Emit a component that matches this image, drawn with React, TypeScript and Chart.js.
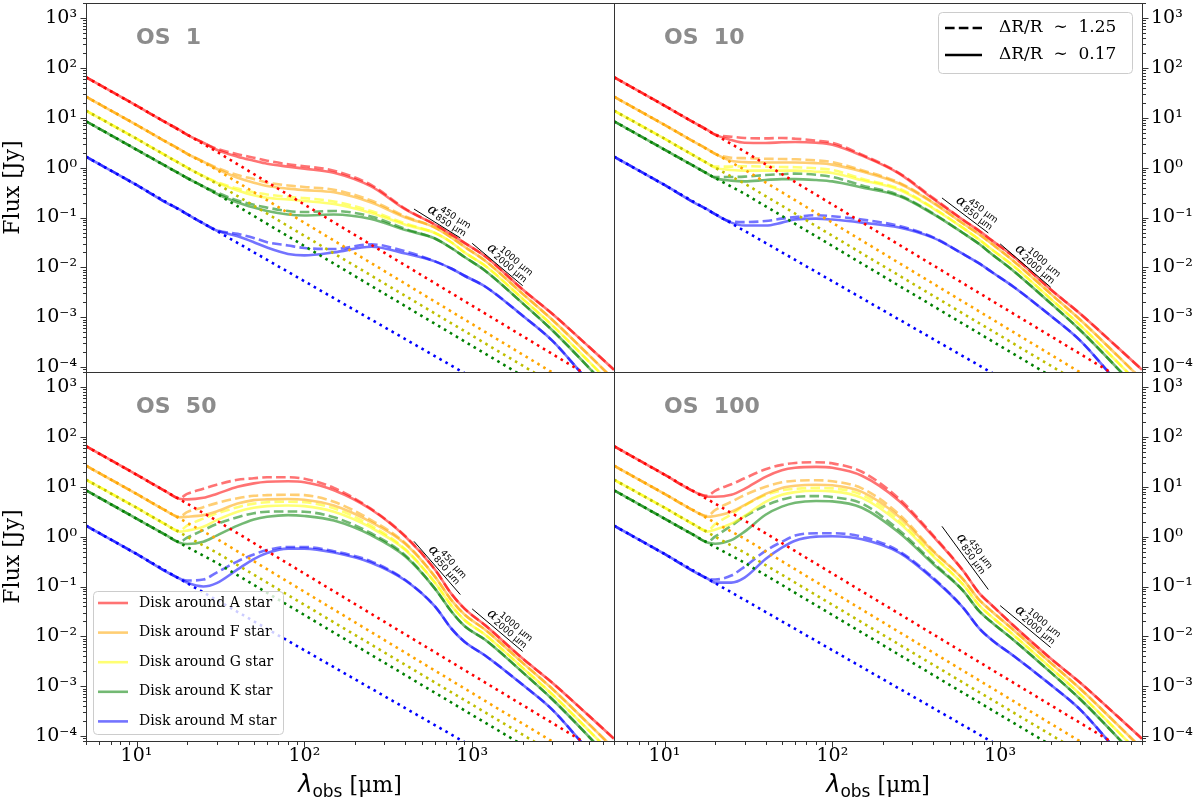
import { useEffect, useRef } from "react";
import { Chart, registerables } from "chart.js";

Chart.register(...registerables);

// wavelength grid of the disk curves (µm)
const LAMBDA = [5, 10, 15, 18, 20, 25, 30, 40, 50, 60, 80, 100, 150, 250, 400, 600, 750, 900, 1200, 2000, 3000, 5000, 7000];
// wavelength grid of the bare stellar photospheres (µm)
const STAR_LAMBDA = [5, 10, 20, 30, 7000];
const ALPHA1_LAMBDA = [450, 850];
const ALPHA2_LAMBDA = [1000, 2000];

// photospheres (Jy)
const STAR_A = [65, 17.5, 4.6, 2.1, 3.3e-5];
const STAR_F = [26.5, 7.2, 1.9, 0.91, 1.4e-5];
const STAR_G = [13.9, 3.8, 1.0, 0.48, 8.7e-6];
const STAR_K = [8.5, 2.3, 0.62, 0.3, 5.4e-6];
const STAR_M = [1.66, 0.45, 0.117, 0.054, 1.45e-6];

// shared short wavelength part (5, 10, 15 µm)
const HEAD_A = [65, 17.5, 8.0];
const HEAD_F = [26.5, 7.2, 3.3];
const HEAD_G = [13.9, 3.8, 1.74];
const HEAD_K = [8.5, 2.3, 1.07];
const HEAD_M = [1.66, 0.45, 0.2];

// shared mm tail (1200, 2000, 3000, 5000, 7000 µm)
const TAIL_A = [0.0165, 0.0036, 0.00118, 2.5e-4, 8.9e-5];
const TAIL_F = [0.0135, 0.00295, 8.9e-4, 1.7e-4, 5.6e-5];
const TAIL_G = [0.0107, 0.00234, 6.9e-4, 1.26e-4, 4.0e-5];
const TAIL_K = [0.0085, 0.0019, 5.5e-4, 9.5e-5, 2.8e-5];
const TAIL_M = [0.0041, 0.00107, 3.4e-4, 5.0e-5, 1.6e-5];

// OS 1
const OS1_A_SOLID = [...HEAD_A, 5.7, 4.6, 3.16, 2.29, 1.66, 1.38, 1.2, 1.05, 0.955, 0.79, 0.42, 0.145, 0.072, 0.046, 0.031, ...TAIL_A];
const OS1_A_DASHED = [...HEAD_A, 5.7, 4.6, 3.16, 2.4, 1.86, 1.58, 1.38, 1.17, 1.07, 0.87, 0.45, 0.15, 0.072, 0.046, 0.031, ...TAIL_A];
const OS1_F_SOLID = [...HEAD_F, 2.35, 1.9, 1.32, 0.95, 0.63, 0.5, 0.43, 0.38, 0.355, 0.32, 0.2, 0.1, 0.063, 0.04, 0.026, ...TAIL_F];
const OS1_F_DASHED = [...HEAD_F, 2.35, 1.9, 1.32, 1.0, 0.71, 0.59, 0.5, 0.44, 0.41, 0.36, 0.22, 0.105, 0.063, 0.04, 0.026, ...TAIL_F];
const OS1_G_SOLID = [...HEAD_G, 1.23, 1.0, 0.68, 0.5, 0.35, 0.28, 0.25, 0.23, 0.215, 0.186, 0.123, 0.072, 0.049, 0.032, 0.02, ...TAIL_G];
const OS1_G_DASHED = [...HEAD_G, 1.23, 1.0, 0.68, 0.52, 0.38, 0.32, 0.29, 0.26, 0.245, 0.21, 0.135, 0.076, 0.049, 0.032, 0.02, ...TAIL_G];
const OS1_K_SOLID = [...HEAD_K, 0.76, 0.62, 0.42, 0.3, 0.2, 0.158, 0.135, 0.115, 0.11, 0.115, 0.093, 0.056, 0.038, 0.0245, 0.0162, ...TAIL_K];
const OS1_K_DASHED = [...HEAD_K, 0.76, 0.62, 0.42, 0.32, 0.22, 0.18, 0.158, 0.135, 0.129, 0.135, 0.105, 0.059, 0.038, 0.0245, 0.0162, ...TAIL_K];
const OS1_M_SOLID = [...HEAD_M, 0.145, 0.117, 0.076, 0.055, 0.042, 0.032, 0.025, 0.0186, 0.0174, 0.02, 0.026, 0.019, 0.0132, 0.0095, 0.0068, ...TAIL_M];
const OS1_M_DASHED = [...HEAD_M, 0.145, 0.117, 0.076, 0.056, 0.047, 0.039, 0.032, 0.0275, 0.0245, 0.0234, 0.029, 0.021, 0.0132, 0.0095, 0.0068, ...TAIL_M];

// OS 10
const OS10_A_SOLID = [...HEAD_A, 5.7, 4.6, 3.58, 3.16, 3.13, 3.22, 3.27, 3.16, 2.88, 1.74, 0.76, 0.235, 0.09, 0.054, 0.034, ...TAIL_A];
const OS10_A_DASHED = [...HEAD_A, 5.7, 4.6, 4.17, 3.93, 3.87, 3.93, 3.81, 3.48, 3.16, 1.82, 0.78, 0.245, 0.09, 0.054, 0.034, ...TAIL_A];
const OS10_F_SOLID = [...HEAD_F, 2.35, 1.9, 1.37, 1.29, 1.27, 1.27, 1.27, 1.23, 1.15, 0.84, 0.48, 0.195, 0.076, 0.046, 0.029, ...TAIL_F];
const OS10_F_DASHED = [...HEAD_F, 2.35, 1.9, 1.58, 1.55, 1.51, 1.49, 1.47, 1.4, 1.29, 0.89, 0.5, 0.2, 0.076, 0.046, 0.029, ...TAIL_F];
const OS10_G_SOLID = [...HEAD_G, 1.23, 1.0, 0.9, 0.87, 0.87, 0.87, 0.87, 0.83, 0.78, 0.56, 0.36, 0.151, 0.062, 0.036, 0.0224, ...TAIL_G];
const OS10_G_DASHED = [...HEAD_G, 1.23, 1.05, 1.05, 1.07, 1.05, 1.03, 1.02, 0.97, 0.9, 0.6, 0.38, 0.155, 0.062, 0.036, 0.0224, ...TAIL_G];
const OS10_K_SOLID = [...HEAD_K, 0.76, 0.62, 0.55, 0.53, 0.565, 0.59, 0.59, 0.565, 0.53, 0.4, 0.27, 0.117, 0.049, 0.0295, 0.018, ...TAIL_K];
const OS10_K_DASHED = [...HEAD_K, 0.76, 0.65, 0.65, 0.66, 0.71, 0.74, 0.76, 0.72, 0.65, 0.44, 0.28, 0.12, 0.049, 0.0295, 0.018, ...TAIL_K];
const OS10_M_SOLID = [...HEAD_M, 0.145, 0.117, 0.079, 0.069, 0.069, 0.079, 0.091, 0.095, 0.091, 0.079, 0.063, 0.039, 0.0186, 0.012, 0.0079, ...TAIL_M];
const OS10_M_DASHED = [...HEAD_M, 0.145, 0.117, 0.083, 0.081, 0.085, 0.095, 0.102, 0.111, 0.106, 0.091, 0.068, 0.04, 0.0186, 0.012, 0.0079, ...TAIL_M];

// OS 50
const OS50_A_SOLID = [...HEAD_A, 5.75, 5.6, 6.0, 7.2, 10.0, 11.7, 12.6, 12.9, 12.3, 8.5, 3.5, 1.0, 0.22, 0.072, 0.036, ...TAIL_A];
const OS50_A_DASHED = [...HEAD_A, 5.9, 7.2, 9.1, 11.0, 13.8, 14.8, 15.5, 15.5, 14.5, 9.5, 3.6, 1.02, 0.22, 0.072, 0.036, ...TAIL_A];
const OS50_F_SOLID = [...HEAD_F, 2.45, 2.5, 2.7, 3.2, 4.6, 5.4, 5.6, 5.7, 5.5, 4.2, 1.95, 0.71, 0.158, 0.054, 0.0275, ...TAIL_F];
const OS50_F_DASHED = [...HEAD_F, 2.5, 3.1, 3.9, 4.7, 5.9, 6.6, 6.8, 6.9, 6.8, 5.0, 2.15, 0.74, 0.158, 0.054, 0.0275, ...TAIL_F];
const OS50_G_SOLID = [...HEAD_G, 1.26, 1.32, 1.58, 2.14, 3.16, 3.8, 4.1, 4.2, 4.1, 3.16, 1.51, 0.54, 0.12, 0.042, 0.0214, ...TAIL_G];
const OS50_G_DASHED = [...HEAD_G, 1.32, 1.66, 2.3, 2.9, 3.9, 4.6, 4.9, 5.0, 4.9, 3.7, 1.66, 0.56, 0.12, 0.042, 0.0214, ...TAIL_G];
const OS50_K_SOLID = [...HEAD_K, 0.76, 0.71, 0.79, 1.05, 1.66, 2.2, 2.5, 2.7, 2.6, 2.1, 1.07, 0.4, 0.091, 0.032, 0.0162, ...TAIL_K];
const OS50_K_DASHED = [...HEAD_K, 0.79, 0.95, 1.35, 1.78, 2.45, 2.95, 3.16, 3.2, 3.16, 2.45, 1.17, 0.42, 0.091, 0.032, 0.0162, ...TAIL_K];
const OS50_M_SOLID = [...HEAD_M, 0.145, 0.12, 0.1, 0.117, 0.22, 0.355, 0.47, 0.575, 0.575, 0.48, 0.3, 0.132, 0.04, 0.0145, 0.0078, ...TAIL_M];
const OS50_M_DASHED = [...HEAD_M, 0.145, 0.132, 0.138, 0.19, 0.32, 0.44, 0.54, 0.62, 0.62, 0.51, 0.32, 0.135, 0.04, 0.0145, 0.0078, ...TAIL_M];

// OS 100
const OS100_A_SOLID = [...HEAD_A, 6.3, 6.3, 6.9, 9.1, 15.8, 21.4, 24, 25, 24, 16.6, 5.2, 1.0, 0.21, 0.074, 0.041, ...TAIL_A];
const OS100_A_DASHED = [...HEAD_A, 6.6, 8.3, 11.2, 14.8, 22.4, 27.5, 30, 31, 29.5, 20, 5.75, 1.05, 0.21, 0.074, 0.041, ...TAIL_A];
const OS100_F_SOLID = [...HEAD_F, 2.5, 2.6, 3.16, 4.3, 7.2, 9.5, 10.5, 11.0, 10.7, 7.9, 2.5, 0.5, 0.141, 0.054, 0.031, ...TAIL_F];
const OS100_F_DASHED = [...HEAD_F, 2.6, 3.4, 5.0, 6.8, 10.0, 12.3, 13.2, 13.5, 12.9, 9.3, 2.8, 0.52, 0.141, 0.054, 0.031, ...TAIL_F];
const OS100_G_SOLID = [...HEAD_G, 1.26, 1.38, 1.82, 2.6, 5.0, 6.9, 7.8, 8.3, 8.1, 6.0, 1.9, 0.4, 0.11, 0.042, 0.024, ...TAIL_G];
const OS100_G_DASHED = [...HEAD_G, 1.32, 1.78, 2.8, 4.2, 6.8, 8.5, 9.1, 9.5, 9.3, 6.9, 2.14, 0.42, 0.11, 0.042, 0.024, ...TAIL_G];
const OS100_K_SOLID = [...HEAD_K, 0.76, 0.72, 0.85, 1.26, 2.75, 4.0, 4.8, 5.2, 5.1, 3.8, 1.2, 0.28, 0.083, 0.032, 0.0186, ...TAIL_K];
const OS100_K_DASHED = [...HEAD_K, 0.79, 1.0, 1.66, 2.5, 4.2, 5.5, 6.3, 6.5, 6.2, 4.6, 1.35, 0.3, 0.083, 0.032, 0.0186, ...TAIL_K];
const OS100_M_SOLID = [...HEAD_M, 0.145, 0.12, 0.12, 0.151, 0.355, 0.6, 0.83, 1.0, 1.02, 0.89, 0.48, 0.141, 0.038, 0.0145, 0.0083, ...TAIL_M];
const OS100_M_DASHED = [...HEAD_M, 0.145, 0.138, 0.166, 0.25, 0.52, 0.79, 1.05, 1.17, 1.17, 1.0, 0.51, 0.148, 0.038, 0.0145, 0.0083, ...TAIL_M];

// spectral index guide segments
const OS1_ALPHA1 = [0.148, 0.039];
const OS1_ALPHA2 = [0.0304, 0.0043];
const OS10_ALPHA1 = [0.247, 0.049];
const OS10_ALPHA2 = [0.0296, 0.004];
const OS50_ALPHA1 = [0.805, 0.069];
const OS50_ALPHA2 = [0.0356, 0.005];
const OS100_ALPHA1 = [1.61, 0.087];
const OS100_ALPHA2 = [0.0414, 0.006];

const STARS = ["A", "F", "G", "K", "M"];
const STAR_DATA: Record<string, number[]> = { A: STAR_A, F: STAR_F, G: STAR_G, K: STAR_K, M: STAR_M };
const DISK_COLORS: Record<string, string> = {
  A: "rgba(255,0,0,0.55)",
  F: "rgba(255,165,0,0.55)",
  G: "rgba(255,255,0,0.55)",
  K: "rgba(0,128,0,0.55)",
  M: "rgba(0,0,255,0.55)",
};
const STAR_COLORS: Record<string, string> = { A: "#ff0000", F: "#ffa500", G: "#bfbf00", K: "#008000", M: "#0000ff" };
const LEGEND_LABELS = ["Disk around A star", "Disk around F star", "Disk around G star", "Disk around K star", "Disk around M star"];
const STYLE_LABELS = ["ΔR/R  ∼  1.25", "ΔR/R  ∼  0.17"];

const PANELS = [
  {
    label: "OS  1", x: "xL", y: "yTL", bottom: false, left: true,
    solid: { A: OS1_A_SOLID, F: OS1_F_SOLID, G: OS1_G_SOLID, K: OS1_K_SOLID, M: OS1_M_SOLID },
    dashed: { A: OS1_A_DASHED, F: OS1_F_DASHED, G: OS1_G_DASHED, K: OS1_K_DASHED, M: OS1_M_DASHED },
    alpha1: OS1_ALPHA1, alpha2: OS1_ALPHA2,
  },
  {
    label: "OS  10", x: "xR", y: "yTR", bottom: false, left: false,
    solid: { A: OS10_A_SOLID, F: OS10_F_SOLID, G: OS10_G_SOLID, K: OS10_K_SOLID, M: OS10_M_SOLID },
    dashed: { A: OS10_A_DASHED, F: OS10_F_DASHED, G: OS10_G_DASHED, K: OS10_K_DASHED, M: OS10_M_DASHED },
    alpha1: OS10_ALPHA1, alpha2: OS10_ALPHA2,
  },
  {
    label: "OS  50", x: "xL", y: "yBL", bottom: true, left: true,
    solid: { A: OS50_A_SOLID, F: OS50_F_SOLID, G: OS50_G_SOLID, K: OS50_K_SOLID, M: OS50_M_SOLID },
    dashed: { A: OS50_A_DASHED, F: OS50_F_DASHED, G: OS50_G_DASHED, K: OS50_K_DASHED, M: OS50_M_DASHED },
    alpha1: OS50_ALPHA1, alpha2: OS50_ALPHA2,
  },
  {
    label: "OS  100", x: "xR", y: "yBR", bottom: true, left: false,
    solid: { A: OS100_A_SOLID, F: OS100_F_SOLID, G: OS100_G_SOLID, K: OS100_K_SOLID, M: OS100_M_SOLID },
    dashed: { A: OS100_A_DASHED, F: OS100_F_DASHED, G: OS100_G_DASHED, K: OS100_K_DASHED, M: OS100_M_DASHED },
    alpha1: OS100_ALPHA1, alpha2: OS100_ALPHA2,
  },
];

const X_MIN = 5;
const X_MAX = 7000;
const Y_MIN = 8e-5;
const Y_MAX = 2000;
const X_MAJOR = [10, 100, 1000];
const Y_MAJOR = [1e-4, 1e-3, 1e-2, 1e-1, 1, 10, 100, 1000];
const SERIF = '"DejaVu Serif"';
const SANS = '"DejaVu Sans"';
const FRAME = "#333333";

const SUP: Record<string, string> = { "0": "⁰", "1": "¹", "2": "²", "3": "³", "4": "⁴", "5": "⁵", "6": "⁶", "7": "⁷", "8": "⁸", "9": "⁹", "-": "⁻" };
const powLabel = (v: number) => "10" + String(Math.round(Math.log10(v))).split("").map((c) => SUP[c]).join("");
const pts = (xs: number[], ys: number[]) => xs.map((x, i) => ({ x, y: ys[i] }));

function logTicks(min: number, max: number) {
  const out: { v: number; major: boolean }[] = [];
  for (let e = Math.floor(Math.log10(min)); e <= Math.ceil(Math.log10(max)); e++) {
    for (let m = 1; m < 10; m++) {
      const v = m * Math.pow(10, e);
      if (v >= min * 0.999 && v <= max * 1.001) out.push({ v, major: m === 1 });
    }
  }
  return out;
}

function buildDatasets() {
  const sets: any[] = [];
  for (const p of PANELS) {
    for (const s of STARS) {
      sets.push({
        data: pts(STAR_LAMBDA, STAR_DATA[s]), xAxisID: p.x, yAxisID: p.y,
        borderColor: STAR_COLORS[s], borderWidth: 2.6, borderDash: [2.6, 4.3], borderCapStyle: "butt",
        pointRadius: 0, tension: 0, clip: 0, order: 1,
      });
    }
    for (const s of STARS) {
      sets.push({
        data: pts(LAMBDA, (p.dashed as any)[s]), xAxisID: p.x, yAxisID: p.y,
        borderColor: DISK_COLORS[s], borderWidth: 2.6, borderDash: [9.6, 4.2],
        pointRadius: 0, cubicInterpolationMode: "monotone", clip: 0, order: 2,
      });
      sets.push({
        data: pts(LAMBDA, (p.solid as any)[s]), xAxisID: p.x, yAxisID: p.y,
        borderColor: DISK_COLORS[s], borderWidth: 2.6,
        pointRadius: 0, cubicInterpolationMode: "monotone", clip: 0, order: 2,
      });
    }
    sets.push({
      data: pts(ALPHA1_LAMBDA, p.alpha1), xAxisID: p.x, yAxisID: p.y,
      borderColor: "#000", borderWidth: 1, pointRadius: 0, clip: 0, order: 0,
      annot: ["450 μm", "850 μm"],
    });
    sets.push({
      data: pts(ALPHA2_LAMBDA, p.alpha2), xAxisID: p.x, yAxisID: p.y,
      borderColor: "#000", borderWidth: 1, pointRadius: 0, clip: 0, order: 0,
      annot: ["1000 μm", "2000 μm"],
    });
  }
  return sets;
}

const tickFont = { family: SERIF, size: 19 };

function yScale(position: "left" | "right", weight: number, title: boolean) {
  return {
    type: "logarithmic", position, stack: position, stackWeight: 1, weight,
    min: Y_MIN, max: Y_MAX,
    afterBuildTicks: (s: any) => { s.ticks = Y_MAJOR.map((v) => ({ value: v, major: true })); },
    afterFit: (s: any) => {
      s.width = position === "left" ? 86 : 58;
      s.paddingTop = 0;
      s.paddingBottom = 0;
      s.paddingLeft = 0;
      s.paddingRight = 0;
    },
    grid: { display: false, drawTicks: false },
    border: { display: false },
    ticks: { callback: (v: any) => powLabel(Number(v)), font: tickFont, color: "#000", padding: 9, autoSkip: false, maxRotation: 0 },
    title: { display: title, text: "Flux [Jy]", font: { family: SERIF, size: 22 }, color: "#000", padding: { top: 0, bottom: 0 } },
  };
}

function xScale(weight: number) {
  return {
    type: "logarithmic", position: "bottom", stack: "bottom", stackWeight: 1, weight,
    min: X_MIN, max: X_MAX,
    afterBuildTicks: (s: any) => { s.ticks = X_MAJOR.map((v) => ({ value: v, major: true })); },
    afterFit: (s: any) => {
      s.height = 61;
      s.paddingTop = 0;
      s.paddingBottom = 0;
      s.paddingLeft = 0;
      s.paddingRight = 0;
    },
    grid: { display: false, drawTicks: false },
    border: { display: false },
    ticks: { callback: (v: any) => powLabel(Number(v)), font: tickFont, color: "#000", padding: 4, autoSkip: false, maxRotation: 0 },
  };
}

function roundRect(ctx: CanvasRenderingContext2D, x: number, y: number, w: number, h: number, r: number) {
  ctx.beginPath();
  ctx.moveTo(x + r, y);
  ctx.lineTo(x + w - r, y);
  ctx.arcTo(x + w, y, x + w, y + r, r);
  ctx.lineTo(x + w, y + h - r);
  ctx.arcTo(x + w, y + h, x + w - r, y + h, r);
  ctx.lineTo(x + r, y + h);
  ctx.arcTo(x, y + h, x, y + h - r, r);
  ctx.lineTo(x, y + r);
  ctx.arcTo(x, y, x + r, y, r);
  ctx.closePath();
}

const overlay = {
  id: "overlay",
  afterDatasetsDraw(chart: any) {
    const ctx: CanvasRenderingContext2D = chart.ctx;
    const sc = chart.scales;
    ctx.save();

    // spine frames and ticks
    for (const p of PANELS) {
      const xs = sc[p.x];
      const ys = sc[p.y];
      const l = Math.round(xs.left) + 0.5;
      const r = Math.round(xs.right) + 0.5;
      const t = Math.round(ys.top) + 0.5;
      const b = Math.round(ys.bottom) + 0.5;
      ctx.strokeStyle = FRAME;
      ctx.lineWidth = 1;
      ctx.strokeRect(l, t, r - l, b - t);
      ctx.beginPath();
      for (const tk of logTicks(Y_MIN, Y_MAX)) {
        const y = Math.round(ys.getPixelForValue(tk.v)) + 0.5;
        const len = tk.major ? 6 : 3.5;
        if (p.left) { ctx.moveTo(l, y); ctx.lineTo(l - len, y); }
        else { ctx.moveTo(r, y); ctx.lineTo(r + len, y); }
      }
      if (p.bottom) {
        for (const tk of logTicks(X_MIN, X_MAX)) {
          const x = Math.round(xs.getPixelForValue(tk.v)) + 0.5;
          const len = tk.major ? 6 : 3.5;
          ctx.moveTo(x, b); ctx.lineTo(x, b + len);
        }
      }
      ctx.stroke();

      // panel tag
      ctx.fillStyle = "#8c8c8c";
      ctx.font = `bold 22px ${SANS}`;
      ctx.textBaseline = "alphabetic";
      ctx.textAlign = "left";
      ctx.fillText(p.label, xs.left + 50, ys.top + 41);

      // x axis title
      if (p.bottom) {
        const parts = [
          { t: "λ", f: `italic 24px ${SANS}`, dy: 0 },
          { t: "obs", f: `17px ${SANS}`, dy: 5 },
          { t: " [μm]", f: `22px ${SERIF}`, dy: 0 },
        ];
        let w = 0;
        for (const q of parts) { ctx.font = q.f; w += ctx.measureText(q.t).width; }
        let x = (xs.left + xs.right) / 2 - w / 2;
        ctx.fillStyle = "#000";
        for (const q of parts) {
          ctx.font = q.f;
          ctx.fillText(q.t, x, 792 + q.dy);
          x += ctx.measureText(q.t).width;
        }
      }
    }

    // spectral index labels
    chart.data.datasets.forEach((ds: any, i: number) => {
      if (!ds.annot) return;
      const el = chart.getDatasetMeta(i).data;
      const a = el[0];
      const b = el[1];
      const ang = Math.atan2(b.y - a.y, b.x - a.x);
      const len = Math.hypot(b.x - a.x, b.y - a.y);
      ctx.save();
      ctx.translate(a.x, a.y);
      ctx.rotate(ang);
      ctx.fillStyle = "#000";
      ctx.textAlign = "left";
      ctx.textBaseline = "alphabetic";
      ctx.font = `italic 14px ${SERIF}`;
      const ax = len * 0.22;
      ctx.fillText("α", ax, -5);
      const aw = ctx.measureText("α").width;
      ctx.font = `9px ${SANS}`;
      ctx.fillText(ds.annot[0], ax + aw + 1, -12);
      ctx.fillText(ds.annot[1], ax + aw + 1, -3);
      ctx.restore();
    });

    // line style legend (top right panel)
    {
      const xs = sc.xR;
      const ys = sc.yTR;
      const bx = xs.right - 10 - 194;
      const by = ys.top + 9;
      roundRect(ctx, bx + 0.5, by + 0.5, 194, 61, 4);
      ctx.fillStyle = "rgba(255,255,255,0.8)";
      ctx.fill();
      ctx.strokeStyle = "#cccccc";
      ctx.lineWidth = 1;
      ctx.stroke();
      STYLE_LABELS.forEach((txt, k) => {
        const y = by + 16 + k * 27;
        ctx.strokeStyle = "#000";
        ctx.lineWidth = 2.6;
        ctx.setLineDash(k === 0 ? [9.6, 4.2] : []);
        ctx.beginPath();
        ctx.moveTo(bx + 7, y);
        ctx.lineTo(bx + 44, y);
        ctx.stroke();
        ctx.setLineDash([]);
        ctx.fillStyle = "#000";
        ctx.font = `17px ${SERIF}`;
        ctx.textBaseline = "middle";
        ctx.fillText(txt, bx + 61, y);
      });
    }

    // colour legend (bottom left panel)
    {
      const xs = sc.xL;
      const ys = sc.yBL;
      const bx = xs.left + 7;
      const by = ys.bottom - 7 - 143;
      roundRect(ctx, bx + 0.5, by + 0.5, 190, 143, 4);
      ctx.fillStyle = "rgba(255,255,255,0.8)";
      ctx.fill();
      ctx.strokeStyle = "#cccccc";
      ctx.lineWidth = 1;
      ctx.stroke();
      STARS.forEach((s, k) => {
        const y = by + 12 + k * 29.6;
        ctx.strokeStyle = DISK_COLORS[s];
        ctx.lineWidth = 2.6;
        ctx.beginPath();
        ctx.moveTo(bx + 5, y);
        ctx.lineTo(bx + 35, y);
        ctx.stroke();
        ctx.fillStyle = "#000";
        ctx.font = `14px ${SERIF}`;
        ctx.textBaseline = "middle";
        ctx.fillText(LEGEND_LABELS[k], bx + 46, y);
      });
    }
    ctx.restore();
  },
};

export default function App() {
  const ref = useRef<HTMLCanvasElement>(null);

  useEffect(() => {
    if (!ref.current) return;
    Chart.defaults.font.family = SERIF;
    const chart = new Chart(ref.current, {
      type: "line",
      data: { datasets: buildDatasets() },
      options: {
        responsive: false,
        devicePixelRatio: 1,
        animation: false,
        events: [],
        layout: { padding: { top: 3, left: 0, right: 0, bottom: 0 } },
        plugins: { legend: { display: false }, tooltip: { enabled: false } },
        scales: {
          xL: xScale(0),
          xR: xScale(1),
          yTL: yScale("left", 1, true),
          yBL: yScale("left", 0, true),
          yTR: yScale("right", 0, false),
          yBR: yScale("right", 1, false),
        } as any,
      },
      plugins: [overlay as any],
    } as any);
    return () => {
      chart.destroy();
    };
  }, []);

  return (
    <div style={{ position: "absolute", left: 0, top: 0, width: 1200, height: 802, background: "#fff" }}>
      <canvas ref={ref} width={1200} height={802} style={{ display: "block" }} />
    </div>
  );
}
